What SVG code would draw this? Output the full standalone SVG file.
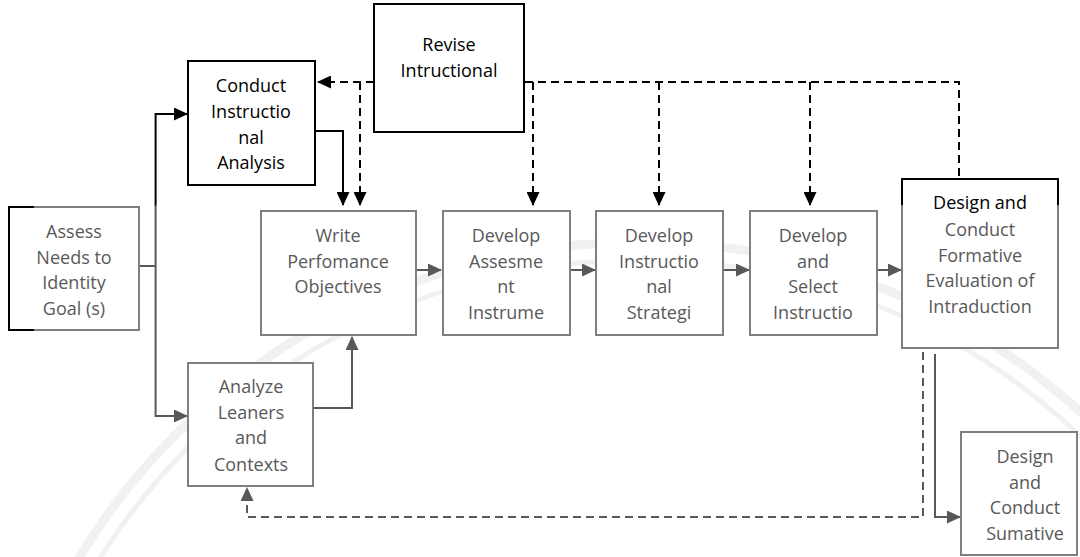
<svg xmlns="http://www.w3.org/2000/svg" width="1080" height="557" viewBox="0 0 1080 557">
<style>
.bg{fill:#fff}
.wm{fill:none;stroke:#f1f1f1}
.gbox{fill:#fff;stroke:#7f7f7f;stroke-width:2}
.kbox{fill:#fff;stroke:#000;stroke-width:2}
.t{font-family:"Open Sans","Noto Sans",sans-serif;font-size:18px;text-anchor:middle}
.tg{fill:#595959}
.tk{fill:#000}
.ck{fill:none;stroke:#000;stroke-width:2}
.cg{fill:none;stroke:#595959;stroke-width:2}
.dash{stroke-dasharray:8,5}
</style>
<defs>
<marker id="ak" markerUnits="userSpaceOnUse" markerWidth="14" markerHeight="13" refX="13" refY="6.5" orient="auto"><path d="M0,0 L14,6.5 L0,13 z" fill="#000"/></marker>
<marker id="ag" markerUnits="userSpaceOnUse" markerWidth="14" markerHeight="13" refX="13" refY="6.5" orient="auto"><path d="M0,0 L14,6.5 L0,13 z" fill="#595959"/></marker>
</defs>
<rect class="bg" x="0" y="0" width="1080" height="557"/>
<g id="watermark">
<circle class="wm" stroke-width="9" cx="640" cy="898" r="656"/>
<circle class="wm" stroke-width="5" cx="640" cy="898" r="638"/>
</g>
<g id="connectors">
<path class="cg" d="M139,266 H155.6"/>
<path class="ck" d="M155.6,206 V114 H187" marker-end="url(#ak)"/>
<path class="cg" d="M155.6,205 V416 H187" marker-end="url(#ag)"/>
<path class="ck" d="M315,131 H343 V205" marker-end="url(#ak)"/>
<path class="ck dash" d="M374,82 H318" marker-end="url(#ak)"/>
<path class="ck dash" d="M360,82 V205" marker-end="url(#ak)"/>
<path class="ck dash" d="M525,82 H959 V188"/>
<path class="ck dash" d="M533,82 V205" marker-end="url(#ak)"/>
<path class="ck dash" d="M659,82 V205" marker-end="url(#ak)"/>
<path class="ck dash" d="M810,82 V205" marker-end="url(#ak)"/>
<path class="cg" d="M416,270 H441" marker-end="url(#ag)"/>
<path class="cg" d="M570,270 H595" marker-end="url(#ag)"/>
<path class="cg" d="M723,270 H749" marker-end="url(#ag)"/>
<path class="cg" d="M877,270 H901" marker-end="url(#ag)"/>
<path class="cg" d="M313,408 H352 V337" marker-end="url(#ag)"/>
<path class="cg" d="M935,354 V517 H960" marker-end="url(#ag)"/>
<path class="cg dash" d="M923,352 V517 H247 V488" marker-end="url(#ag)"/>
</g>
<g id="revise">
<rect class="kbox" x="374" y="4" width="150" height="128"/>
<text class="t tk" x="449" y="51">Revise</text>
<text class="t tk" x="449" y="77">Intructional</text>
</g>
<g id="conduct">
<rect class="kbox" x="188" y="61" width="127" height="124"/>
<text class="t tk" x="251" y="92">Conduct</text>
<text class="t tk" x="251" y="118">Instructio</text>
<text class="t tk" x="251" y="144">nal</text>
<text class="t tk" x="251" y="169">Analysis</text>
</g>
<g id="assess">
<rect class="gbox" x="9" y="207" width="130" height="123"/>
<path class="ck" d="M34,207 H9 V330 H34"/>
<text class="t tg" x="74" y="238">Assess</text>
<text class="t tg" x="74" y="264">Needs to</text>
<text class="t tg" x="74" y="289">Identity</text>
<text class="t tg" x="74" y="315">Goal (s)</text>
</g>
<g id="write">
<rect class="gbox" x="261" y="211" width="155" height="124"/>
<text class="t tg" x="338" y="242">Write</text>
<text class="t tg" x="338" y="268">Perfomance</text>
<text class="t tg" x="338" y="293">Objectives</text>
</g>
<g id="assessment">
<rect class="gbox" x="443" y="211" width="127" height="124"/>
<text class="t tg" x="506" y="242">Develop</text>
<text class="t tg" x="506" y="268">Assesme</text>
<text class="t tg" x="506" y="293">nt</text>
<text class="t tg" x="506" y="319">Instrume</text>
</g>
<g id="strategy">
<rect class="gbox" x="596" y="211" width="127" height="124"/>
<text class="t tg" x="659" y="242">Develop</text>
<text class="t tg" x="659" y="268">Instructio</text>
<text class="t tg" x="659" y="293">nal</text>
<text class="t tg" x="659" y="319">Strategi</text>
</g>
<g id="select">
<rect class="gbox" x="750" y="211" width="127" height="124"/>
<text class="t tg" x="813" y="242">Develop</text>
<text class="t tg" x="813" y="268">and</text>
<text class="t tg" x="813" y="293">Select</text>
<text class="t tg" x="813" y="319">Instructio</text>
</g>
<g id="formative">
<rect class="gbox" x="902" y="179" width="156" height="169"/>
<path class="ck" d="M902,205 V179 H1058 V205"/>
<text class="t tk" x="980" y="209">Design and</text>
<text class="t tg" x="980" y="236">Conduct</text>
<text class="t tg" x="980" y="262">Formative</text>
<text class="t tg" x="980" y="287">Evaluation of</text>
<text class="t tg" x="980" y="313">Intraduction</text>
</g>
<g id="summative">
<rect class="gbox" x="961" y="432" width="116" height="123"/>
<text class="t tg" x="1025" y="463">Design</text>
<text class="t tg" x="1025" y="489">and</text>
<text class="t tg" x="1025" y="514">Conduct</text>
<text class="t tg" x="1025" y="540">Sumative</text>
</g>
<g id="analyze">
<rect class="gbox" x="188" y="363" width="125" height="123"/>
<text class="t tg" x="251" y="393">Analyze</text>
<text class="t tg" x="251" y="419">Leaners</text>
<text class="t tg" x="251" y="444">and</text>
<text class="t tg" x="251" y="471">Contexts</text>
</g>
</svg>
